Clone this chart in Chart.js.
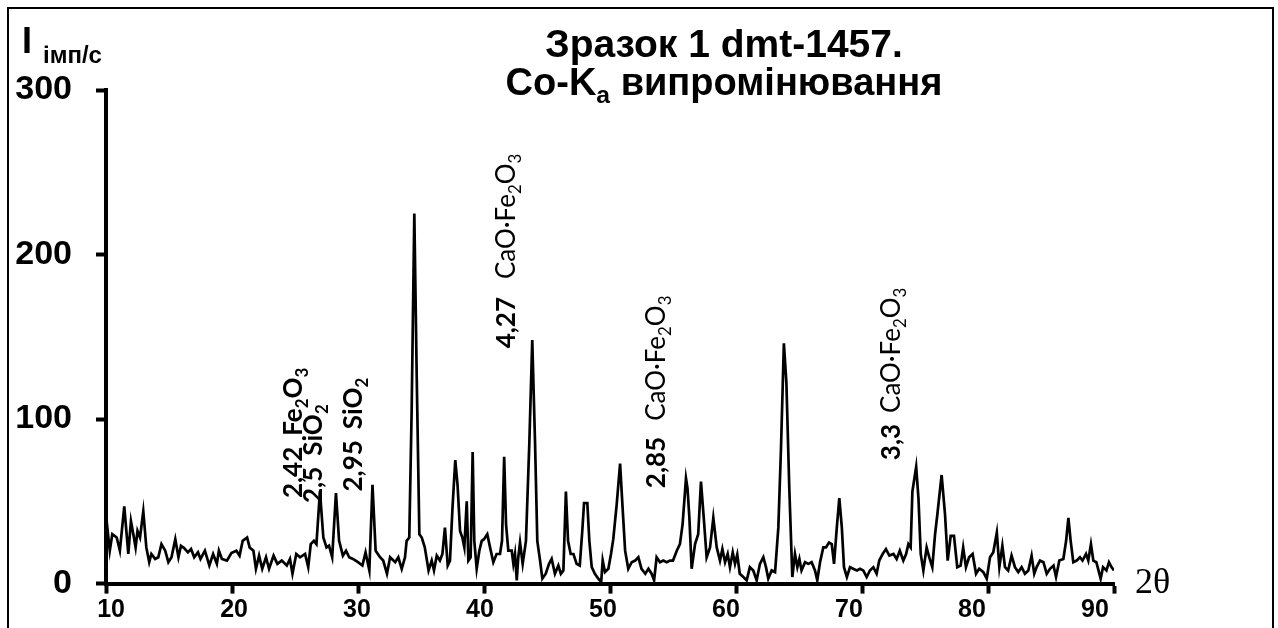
<!DOCTYPE html>
<html>
<head>
<meta charset="utf-8">
<script src="https://cdn.jsdelivr.net/npm/chart.js@4/dist/chart.umd.min.js"></script>
<style>
  html, body { margin: 0; padding: 0; background: #fff; }
  canvas { display: block; }
</style>
</head>
<body>
<canvas id="xrd" width="1278" height="628"></canvas>
<script>
// Diffraction angle 2θ (degrees)
const twoTheta = [
  10.05, 10.3, 10.5, 10.85, 11.1, 11.45, 11.77, 11.98, 12.17, 12.35, 12.5, 12.7, 12.96, 13.2, 13.43, 13.6, 13.9,
  14.15, 14.4, 14.7, 14.95, 15.2, 15.5, 15.75, 15.95, 16.2, 16.5, 16.75, 17.0, 17.3, 17.5, 17.85, 18.2, 18.5,
  18.8, 18.96, 19.2, 19.6, 19.95, 20.35, 20.6, 20.85, 21.2, 21.4, 21.7, 21.9, 22.15, 22.4, 22.7, 22.94, 23.3,
  23.6, 23.95, 24.35, 24.6, 24.8, 25.1, 25.4, 25.8, 26.05, 26.25, 26.5, 26.7, 26.98, 27.25, 27.5, 27.7, 27.95,
  28.25, 28.5, 28.8, 29.05, 29.3, 29.6, 30.0, 30.35, 30.6, 30.9, 31.15, 31.4, 31.75, 32.0, 32.3, 32.55, 32.95,
  33.2, 33.47, 33.73, 33.86, 34.07, 34.26, 34.47, 34.66, 34.87, 35.06, 35.3, 35.6, 35.85, 36.03, 36.25, 36.5,
  36.7, 36.9, 37.12, 37.3, 37.5, 37.72, 37.9, 38.1, 38.28, 38.44, 38.63, 38.76, 38.94, 39.1, 39.23, 39.42,
  39.63, 39.82, 40.0, 40.26, 40.48, 40.74, 41.0, 41.27, 41.43, 41.6, 41.75, 41.93, 42.2, 42.33, 42.46, 42.6,
  42.72, 42.86, 43.07, 43.33, 43.6, 43.83, 44.05, 44.23, 44.45, 44.63, 44.9, 45.16, 45.37, 45.63, 45.9, 46.1,
  46.3, 46.5, 46.67, 46.88, 47.1, 47.35, 47.6, 47.8, 47.94, 48.2, 48.36, 48.55, 48.8, 49.07, 49.3, 49.42,
  49.6, 49.87, 50.08, 50.26, 50.53, 50.8, 51.0, 51.2, 51.45, 51.72, 52.0, 52.25, 52.5, 52.8, 53.05, 53.3,
  53.5, 53.7, 53.97, 54.23, 54.5, 54.76, 55.0, 55.3, 55.55, 55.76, 56.03, 56.15, 56.3, 56.48, 56.75, 57.0,
  57.22, 57.46, 57.67, 57.94, 58.2, 58.47, 58.73, 58.92, 59.13, 59.34, 59.52, 59.74, 59.92, 60.1, 60.3,
  60.58, 60.85, 61.1, 61.37, 61.64, 61.9, 62.17, 62.38, 62.56, 62.83, 63.1, 63.36, 63.57, 63.8, 64.0, 64.23,
  64.47, 64.68, 64.87, 65.03, 65.2, 65.48, 65.74, 66.0, 66.27, 66.45, 66.67, 66.93, 67.14, 67.38, 67.6,
  67.78, 68.0, 68.2, 68.4, 68.57, 68.8, 69.05, 69.3, 69.6, 69.84, 70.1, 70.37, 70.63, 70.9, 71.16, 71.37,
  71.64, 71.9, 72.17, 72.5, 72.75, 73.0, 73.28, 73.5, 73.68, 73.86, 74.0, 74.3, 74.48, 74.66, 74.87, 75.13,
  75.34, 75.58, 75.8, 75.98, 76.32, 76.59, 76.8, 77.04, 77.3, 77.56, 77.83, 78.03, 78.25, 78.5, 78.78, 79.05,
  79.3, 79.63, 79.9, 80.16, 80.42, 80.7, 80.9, 81.14, 81.35, 81.6, 81.87, 82.14, 82.4, 82.67, 82.93, 83.2,
  83.46, 83.67, 83.86, 84.13, 84.4, 84.66, 84.92, 85.2, 85.4, 85.66, 85.98, 86.2, 86.38, 86.56, 86.77, 87.04,
  87.3, 87.5, 87.78, 87.96, 88.17, 88.36, 88.6, 88.94, 89.13, 89.4, 89.6, 89.8, 90.0
];

// Intensity, counts per second
const intensity = [
  38, 20, 30, 28, 20, 47, 18, 38, 30, 22, 32, 28, 44, 22, 13, 18, 15,
  16, 24, 20, 13, 16, 27, 16, 23, 21.6, 19, 21, 16, 19, 15, 20, 11, 18,
  12, 20, 15, 14, 18.6, 20, 17, 26, 28, 22, 20, 9, 17, 9, 16, 9, 17,
  12, 14, 11, 15, 6, 18, 16, 18, 10, 24, 26, 24, 56, 28, 22, 23, 16,
  55, 26, 17, 20, 16, 15, 13, 11, 19, 8, 60, 20, 16, 14, 6, 16, 13,
  16, 9, 16, 26, 28, 106, 225, 126, 30, 28, 22, 8, 14, 8, 17, 14,
  18, 34, 11, 14, 46, 75, 60, 32, 28, 22, 50, 14, 16, 80, 26, 9,
  20, 26, 27, 30, 22, 13, 18, 18, 26, 77, 36, 20, 20, 12, 18, 2,
  16, 25, 12, 26, 86, 148, 86, 26, 14, 3, 6, 12, 15, 6, 11, 6,
  8, 56, 26, 18, 18, 12, 11, 32, 49, 49, 26, 10, 6, 3, 1, 14,
  7, 9, 18, 27, 48, 73, 46, 20, 9, 13, 14, 16, 9, 6, 9, 6,
  2, 16, 13, 14, 13, 14, 14, 20, 24, 36, 64, 58, 40, 9, 24, 30,
  62, 38, 16, 22, 40, 22, 14, 21, 13, 18, 10, 19, 12, 17.6, 6,
  4, 2, 10, 8, 2, 12, 16, 10, 3, 8, 7, 34, 82, 146, 122, 58,
  4, 18, 10, 15, 8, 13, 12, 13, 8, 2, 13, 22, 22, 25, 24,
  12, 34, 52, 34, 10, 4, 10, 9, 8, 9, 8, 4, 8, 10, 6, 14,
  18, 21, 17, 18, 15, 20, 14, 18, 24, 22, 56, 71, 52, 18, 8, 22,
  16, 10, 30, 42, 66, 42, 14, 29, 29, 10, 11, 22, 10, 16, 18, 6,
  9, 7, 3, 16, 19, 31, 10, 23, 10, 8, 17, 10, 7, 10, 6, 8,
  17, 6, 10, 14, 13, 6, 9, 11, 4, 14, 15, 26, 40, 26, 13, 14,
  16, 14, 18, 14, 24, 14, 13, 3, 10, 8, 13, 10, 8
];

// Axis ticks
const xTickValues = [10, 20, 30, 40, 50, 60, 70, 80, 90];
const yTickValues = [0, 100, 200, 300];

// Peak notes: interplanar spacing and phase, anchored at (2θ, I)
const peakNotes = [
  { at: [25.56, 52], parts: [{ t: '2,42', b: 1 }, { gap: 11 }, { t: 'Fe', b: 1 }, { t: '2', b: 1, sub: 1 }, { t: 'O', b: 1 }, { t: '3', b: 1, sub: 1 }] },
  { at: [27.14, 49], parts: [{ t: '2,5', b: 1 }, { gap: 11 }, { t: 'SiO', b: 1 }, { t: '2', b: 1, sub: 1 }] },
  { at: [30.32, 56], parts: [{ t: '2,95', b: 1 }, { gap: 11 }, { t: 'SiO', b: 1 }, { t: '2', b: 1, sub: 1 }] },
  { at: [42.46, 143], parts: [{ t: '4,27', b: 1 }, { gap: 18 }, { t: 'CaO·Fe' }, { t: '2', sub: 1 }, { t: 'O' }, { t: '3', sub: 1 }] },
  { at: [54.37, 58], parts: [{ t: '2,85', b: 1 }, { gap: 16 }, { t: 'CaO·Fe' }, { t: '2', sub: 1 }, { t: 'O' }, { t: '3', sub: 1 }] },
  { at: [73.02, 75], parts: [{ t: '3,3', b: 1 }, { gap: 11 }, { t: 'CaO·Fe' }, { t: '2', sub: 1 }, { t: 'O' }, { t: '3', sub: 1 }] }
];

const SANS = '"Liberation Sans", Arial, sans-serif';
const NOTE_FONT = 'Lato, "Open Sans", sans-serif';
const NOTE_SIZE = 26;

// Draws a run of text pieces with optional subscripts along the local x axis
function drawRun(ctx, parts, size, family) {
  let x = 0;
  for (const p of parts) {
    if (p.gap) { x += p.gap; continue; }
    const fs = p.sub ? size * 0.65 : size;
    ctx.font = (p.b ? 'bold ' : '') + fs + 'px ' + family;
    ctx.fillText(p.t, x, p.sub ? size * 0.22 : 0);
    x += ctx.measureText(p.t).width;
  }
  return x;
}
function runWidth(ctx, parts, size, family) {
  let w = 0;
  for (const p of parts) {
    if (p.gap) { w += p.gap; continue; }
    const fs = p.sub ? size * 0.65 : size;
    ctx.font = (p.b ? 'bold ' : '') + fs + 'px ' + family;
    w += ctx.measureText(p.t).width;
  }
  return w;
}

const decor = {
  id: 'decor',
  beforeDraw(chart) {
    const ctx = chart.ctx;
    ctx.save();
    ctx.fillStyle = '#fff';
    ctx.fillRect(0, 0, chart.width, chart.height);
    ctx.restore();
  },
  afterDraw(chart) {
    const ctx = chart.ctx;
    const xs = chart.scales.x, ys = chart.scales.y;
    ctx.save();
    ctx.fillStyle = '#000';
    ctx.strokeStyle = '#000';

    // frame
    ctx.lineWidth = 2;
    ctx.strokeRect(8, 8, 1265, 640);

    // title
    ctx.textBaseline = 'alphabetic';
    ctx.textAlign = 'left';
    const t1 = [{ t: 'Зразок 1 dmt-1457.', b: 1 }];
    const t2 = [{ t: 'Co-K', b: 1 }, { t: 'a', b: 1, sub: 1 }, { t: ' випромінювання', b: 1 }];
    const tSize = 38, tCenter = 724;
    let w = runWidth(ctx, t1, tSize + 1, SANS);
    ctx.save(); ctx.translate(tCenter - w / 2, 57); drawRun(ctx, t1, tSize + 1, SANS); ctx.restore();
    w = runWidth(ctx, t2, tSize, SANS);
    ctx.save(); ctx.translate(tCenter - w / 2, 95); drawRun(ctx, t2, tSize, SANS); ctx.restore();

    // y axis title
    ctx.font = 'bold 36px ' + SANS;
    ctx.fillText('I', 22, 53);
    ctx.font = 'bold 24px ' + SANS;
    ctx.fillText('імп/с', 43, 63);

    // x axis title
    ctx.font = '36px "Liberation Serif", "Times New Roman", serif';
    ctx.fillText('2θ', 1135, 593);

    // peak notes, written upward
    for (const n of peakNotes) {
      const px = xs.getPixelForValue(n.at[0]);
      const py = ys.getPixelForValue(n.at[1]);
      ctx.save();
      ctx.translate(px, py);
      ctx.rotate(-Math.PI / 2);
      drawRun(ctx, n.parts, NOTE_SIZE, NOTE_FONT);
      ctx.restore();
    }
    ctx.restore();
  }
};

new Chart(document.getElementById('xrd'), {
  type: 'line',
  data: {
    datasets: [{
      data: twoTheta.map((t, i) => ({ x: t, y: intensity[i] })),
      borderColor: '#000',
      borderWidth: 2.7,
      pointRadius: 0,
      tension: 0,
      fill: false
    }]
  },
  options: {
    responsive: false,
    animation: false,
    layout: { padding: { left: 0, right: 164, top: 90, bottom: 0 } },
    plugins: { legend: { display: false }, tooltip: { enabled: false }, title: { display: false } },
    scales: {
      x: {
        type: 'linear', position: 'bottom', min: 10, max: 90,
        grid: { display: true, drawOnChartArea: false, drawTicks: true, tickLength: 10, tickWidth: 4, tickColor: '#000' },
        border: { display: true, color: '#000', width: 4 },
        ticks: { display: false, autoSkip: false },
        afterBuildTicks(s) { s.ticks = xTickValues.map(v => ({ value: v })); },
        afterFit(s) { s.height = 10; }
      },
      xLabels: {
        type: 'linear', position: 'bottom', min: 9.59, max: 91.55,
        grid: { display: false, drawTicks: false },
        border: { display: false },
        ticks: { autoSkip: false, maxRotation: 0, color: '#000', padding: 2, font: { family: SANS, size: 25, weight: 'bold' } },
        afterBuildTicks(s) { s.ticks = xTickValues.map(v => ({ value: v })); },
        afterFit(s) { s.height = 28; }
      },
      y: {
        min: 0, max: 300,
        grid: { display: true, drawOnChartArea: false, drawTicks: true, tickLength: 10, tickWidth: 4, tickColor: '#000' },
        border: { display: true, color: '#000', width: 4 },
        ticks: { autoSkip: false, color: '#000', padding: 24, font: { family: SANS, size: 34, weight: 'bold' } },
        afterBuildTicks(s) { s.ticks = yTickValues.map(v => ({ value: v })); },
        afterFit(s) { s.width = 106; }
      }
    }
  },
  plugins: [decor]
});
</script>
</body>
</html>
